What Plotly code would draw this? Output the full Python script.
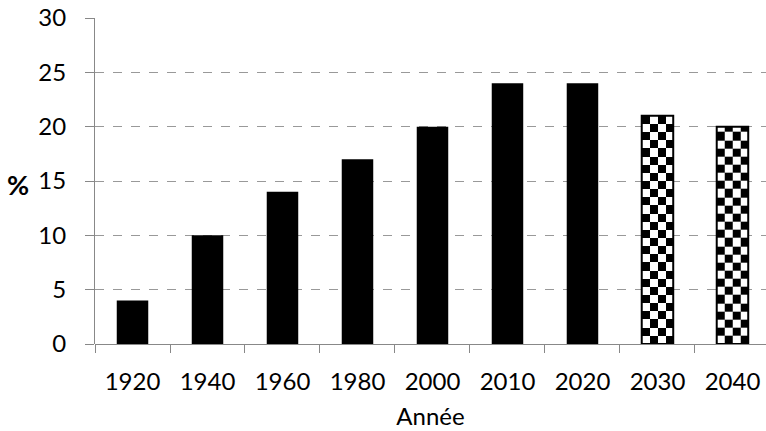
import plotly.graph_objects as go
import numpy as np

# Share of the population (%) by year; the last two years are projections
years = ["1920", "1940", "1960", "1980", "2000", "2010", "2020", "2030", "2040"]
values = [4, 10, 14, 17, 20, 24, 24, 21, 20]
projected = [False, False, False, False, False, False, False, True, True]

FONT = "Lato"
BAR_W = 0.42          # bar width in category units
CHECK_COLS = 4        # checker columns across a projected bar
CHECK_H = 0.75        # checker row height in value units

xpos = list(range(len(years)))
fig = go.Figure()

# checkerboard fill for projected bars (heatmaps sit beneath the bar layer)
for x, v, p in zip(xpos, values, projected):
    if not p:
        continue
    xe = np.linspace(x - BAR_W / 2, x + BAR_W / 2, CHECK_COLS + 1)
    ye = list(np.arange(0, v, CHECK_H)) + [v]
    nr, nc = len(ye) - 1, CHECK_COLS
    z = [[(r + c) % 2 for c in range(nc)] for r in range(nr)]
    fig.add_trace(go.Heatmap(
        x=xe, y=ye, z=z, zmin=0, zmax=1,
        colorscale=[[0, "white"], [1, "black"]],
        showscale=False, hoverinfo="skip",
    ))

fig.add_trace(go.Bar(
    x=xpos, y=values, width=BAR_W,
    marker=dict(
        color=["rgba(0,0,0,0)" if p else "black" for p in projected],
        line=dict(color="black", width=[2 if p else 0 for p in projected]),
    ),
    showlegend=False,
))

PLOT_L, PLOT_T, PLOT_W, PLOT_H = 95, 18, 671, 326

fig.update_layout(
    width=766, height=431,
    margin=dict(l=PLOT_L, r=0, t=PLOT_T, b=431 - PLOT_T - PLOT_H),
    paper_bgcolor="white", plot_bgcolor="white",
    font=dict(family=FONT, size=24, color="black"),
    showlegend=False,
    xaxis=dict(
        range=[-0.5, 8.447],
        tickmode="array", tickvals=xpos, ticktext=years,
        ticks="", showgrid=False, zeroline=False,
        showline=False,
        minor=dict(tickmode="array", tickvals=[i - 0.5 for i in range(len(years) + 1)],
                   ticks="outside", ticklen=8, tickcolor="#888888", tickwidth=1, showgrid=False),
        ticklabelstandoff=21,
        title=dict(text="Année", font=dict(size=24), standoff=14),
    ),
    yaxis=dict(
        range=[0, 30], tickmode="array", tickvals=[0, 5, 10, 15, 20, 25, 30],
        ticks="outside", ticklen=9, tickwidth=1, tickcolor="#888888",
        showgrid=True, gridcolor="#999999", griddash="dash", gridwidth=1,
        showline=True, linecolor="#888888", linewidth=1,
        zeroline=True, zerolinecolor="#888888", zerolinewidth=1,
        ticklabelstandoff=14,
    ),
    annotations=[dict(
        text="<b>%</b>", xref="paper", yref="paper",
        x=(18 - PLOT_L) / PLOT_W, y=(PLOT_T + PLOT_H - 185) / PLOT_H,
        xanchor="center", yanchor="middle",
        showarrow=False, font=dict(size=27),
    )],
)

fig.write_html("out.html")
